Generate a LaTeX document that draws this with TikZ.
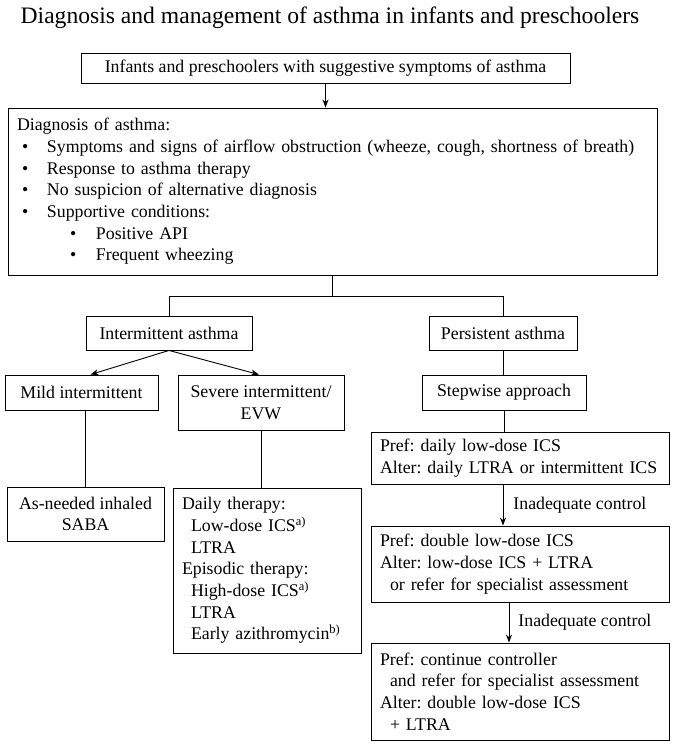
\documentclass[tikz,border=0pt]{standalone}
\usepackage{fontspec}
\setmainfont{Liberation Serif}
\usetikzlibrary{arrows.meta,calc}
\frenchspacing
\begin{document}
\begin{tikzpicture}[x=1pt,y=-1pt,
  txt/.style={font=\fontsize{17.8}{21.7}\selectfont},
  box/.style={draw, line width=0.9pt, txt, inner xsep=9pt, inner ysep=0pt},
  lbox/.style={box, align=left},
  cbox/.style={box, align=center},
  conn/.style={line width=0.9pt},
  arr/.style={conn, -{Stealth[length=8pt,width=6pt]}},
  lbl/.style={txt, inner sep=0pt}]
\useasboundingbox (0,0) rectangle (674,745);

\node[txt, font=\fontsize{23.6}{26}\selectfont, anchor=base] (title) at (330,23)
  {Diagnosis and management of asthma in infants and preschoolers};

\node[cbox, minimum width=489pt, minimum height=30pt] (top) at (325.5,68)
  {Infants and preschoolers with suggestive symptoms of asthma};

\node[lbox, text width=631pt, minimum height=167pt] (diag) at (332.5,191.5)
  {Diagnosis of asthma:\\
   \hspace*{5pt}\makebox[25pt][l]{•}Symptoms and signs of airflow obstruction (wheeze, cough, shortness of breath)\\
   \hspace*{5pt}\makebox[25pt][l]{•}Response to asthma therapy\\
   \hspace*{5pt}\makebox[25pt][l]{•}No suspicion of alternative diagnosis\\
   \hspace*{5pt}\makebox[25pt][l]{•}Supportive conditions:\\
   \hspace*{53pt}\makebox[26pt][l]{•}Positive API\\
   \hspace*{53pt}\makebox[26pt][l]{•}Frequent wheezing};

\node[cbox, minimum width=166pt, minimum height=34pt] (inter) at (169,333) {Intermittent asthma};
\node[cbox, minimum width=148pt, minimum height=34pt] (pers) at (503,333) {Persistent asthma};

\node[cbox, minimum width=153pt, minimum height=35pt] (mild) at (81.5,392.5) {Mild intermittent};
\node[cbox, minimum width=166pt, minimum height=55pt] (severe) at (261,402.5) {Severe intermittent/\\EVW};
\node[cbox, minimum width=164pt, minimum height=35pt] (step) at (504,392.5) {Stepwise approach};

\node[cbox, minimum width=157pt, minimum height=54pt] (asneed) at (85.5,514) {As-needed inhaled\\SABA};
\node[lbox, text width=170pt, minimum height=165pt] (daily) at (267,570.5)
  {Daily therapy:\\
   \hspace*{9pt}Low-dose ICS\textsuperscript{a)}\\
   \hspace*{9pt}LTRA\\
   Episodic therapy:\\
   \hspace*{9pt}High-dose ICS\textsuperscript{a)}\\
   \hspace*{9pt}LTRA\\
   \hspace*{9pt}Early azithromycin\textsuperscript{b)}};

\node[lbox, text width=280pt, minimum height=52pt] (pref1) at (520,458)
  {Pref: daily low-dose ICS\\
   Alter: daily LTRA or intermittent ICS};
\node[lbox, text width=280pt, minimum height=76pt] (pref2) at (520,564)
  {Pref: double low-dose ICS\\
   Alter: low-dose ICS + LTRA\\
   \hspace*{10pt}or refer for specialist assessment};
\node[lbox, text width=280pt, minimum height=97pt] (pref3) at (520,691.5)
  {Pref: continue controller\\
   \hspace*{10pt}and refer for specialist assessment\\
   Alter: double low-dose ICS\\
   \hspace*{10pt}+ LTRA};

% connectors
\draw[arr] (top) -- (top |- diag.north);
\draw[conn] (diag.south) -- ++(0,21) coordinate (j);
\draw[conn] (inter.north) |- (j) -| (pers.north);
\draw[arr] (inter.south) -- ([xshift=9pt]mild.north);
\draw[arr] (inter.south) -- ([xshift=-2pt]severe.north);
\draw[conn] (pers.south) -- (pers.south |- step.north);
\draw[conn] (asneed.north |- mild.south) -- (asneed.north);
\draw[conn] (severe.south) -- (severe.south |- daily.north);
\draw[conn] (step.south) -- (step.south |- pref1.north);
\draw[arr] ([xshift=-17pt]pref1.south) -- node[lbl, anchor=west, xshift=10pt] (l1) {Inadequate control} ([xshift=-17pt]pref1.south |- pref2.north);
\draw[arr] ([xshift=-11pt]pref2.south) -- node[lbl, anchor=west, xshift=9pt] (l2) {Inadequate control} ([xshift=-11pt]pref2.south |- pref3.north);
\end{tikzpicture}
\end{document}
